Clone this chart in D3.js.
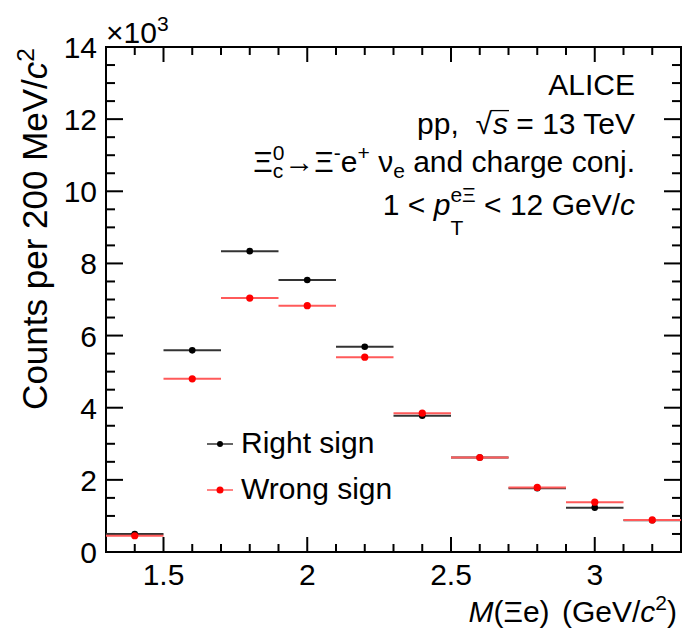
<!DOCTYPE html>
<html>
<head>
<meta charset="utf-8">
<script src="https://cdn.jsdelivr.net/npm/d3@7"></script>
<style>
  html, body { margin: 0; padding: 0; background: #fff; }
  svg { display: block; }
  text { font-family: "Liberation Sans", Helvetica, Arial, sans-serif; fill: #000; }
</style>
</head>
<body>
<svg id="chart" width="687" height="629"></svg>
<script>
// Invariant-mass bins (GeV/c^2): centres and half-width
const binCenters = [1.4, 1.6, 1.8, 2.0, 2.2, 2.4, 2.6, 2.8, 3.0, 3.2];
const binHalfWidth = 0.1;
// Counts per bin, in units of 10^3
const rightSign = [0.50, 5.59, 8.34, 7.54, 5.69, 3.78, 2.62, 1.77, 1.23, 0.88];
const wrongSign = [0.45, 4.80, 7.04, 6.83, 5.40, 3.85, 2.62, 1.79, 1.38, 0.89];
// Axis ticks
const xTickValues = [1.5, 2, 2.5, 3];
const xTickLabels = ["1.5", "2", "2.5", "3"];
const yTickValues = [0, 2, 4, 6, 8, 10, 12, 14];
const yTickLabels = ["0", "2", "4", "6", "8", "10", "12", "14"];

const svg = d3.select("#chart");
const pLeft = 106, pRight = 681, pTop = 47, pBottom = 552;
const x = d3.scaleLinear().domain([1.3, 3.3]).range([pLeft, pRight]);
const y = d3.scaleLinear().domain([0, 14]).range([pBottom, pTop]);

const FS = 30;      // labels, legend and info text
const FS_YT = 35;   // y-axis title

// Frame
svg.append("rect").attr("x", pLeft).attr("y", pTop)
  .attr("width", pRight - pLeft).attr("height", pBottom - pTop)
  .attr("fill", "none").attr("stroke", "#000").attr("stroke-width", 2);

// Ticks (drawn inward on all four sides)
const xMinor = d3.range(1.3, 3.3001, 0.1).map(v => +v.toFixed(2));
const yMinor = d3.range(0, 14.001, 0.5).map(v => +v.toFixed(2));
const ticks = svg.append("g").attr("stroke", "#000").attr("stroke-width", 2);
xMinor.forEach(v => {
  const major = Math.abs(v * 2 - Math.round(v * 2)) < 1e-6;
  const len = major ? 15 : 8;
  ticks.append("line").attr("x1", x(v)).attr("x2", x(v)).attr("y1", pBottom).attr("y2", pBottom - len);
  ticks.append("line").attr("x1", x(v)).attr("x2", x(v)).attr("y1", pTop).attr("y2", pTop + len);
});
yMinor.forEach(v => {
  const major = Math.abs(v / 2 - Math.round(v / 2)) < 1e-6;
  const len = major ? 17 : 9;
  ticks.append("line").attr("x1", pLeft).attr("x2", pLeft + len).attr("y1", y(v)).attr("y2", y(v));
  ticks.append("line").attr("x1", pRight).attr("x2", pRight - len).attr("y1", y(v)).attr("y2", y(v));
});

// Tick labels
svg.append("g").selectAll("text").data(xTickValues).join("text")
  .attr("x", d => x(d)).attr("y", pBottom + 33)
  .attr("text-anchor", "middle").attr("font-size", FS)
  .text((d, i) => xTickLabels[i]);
svg.append("g").selectAll("text").data(yTickValues).join("text")
  .attr("x", pLeft - 9).attr("y", d => y(d) + 11)
  .attr("text-anchor", "end").attr("font-size", FS)
  .text((d, i) => yTickLabels[i]);

// Exponent label
const ex = svg.append("text").attr("x", pLeft).attr("y", 43).attr("font-size", FS);
ex.append("tspan").text("\u00d710");
ex.append("tspan").attr("dy", -12).attr("font-size", FS * 0.7).text("3");

// Rich-text line: one <text> per line, tspans placed left to right;
// a "stack" entry puts a superscript and a subscript at the same x.
function richLine(parent, pieces, xRight, baseline, size) {
  const g = parent.append("g");
  const t = g.append("text").style("white-space", "pre");
  let cx = 0;
  pieces.forEach(p => {
    if (p.stack) {
      let w = 0;
      p.stack.forEach(s => {
        const ts = t.append("tspan").attr("x", cx).attr("y", baseline + s.dy)
          .attr("font-size", size * (s.scale || 0.7)).text(s.t);
        w = Math.max(w, ts.node().getComputedTextLength());
      });
      cx += w;
    } else {
      const ts = t.append("tspan").attr("x", cx).attr("y", baseline + (p.dy || 0))
        .attr("font-size", size * (p.scale || 1)).text(p.t);
      if (p.italic) ts.attr("font-style", "italic");
      const w = ts.node().getComputedTextLength();
      if (p.overline) {
        g.append("line").attr("x1", cx - 2).attr("x2", cx + w + 1)
          .attr("y1", baseline - size * 0.78).attr("y2", baseline - size * 0.78)
          .attr("stroke", "#000").attr("stroke-width", 1.3);
      }
      cx += w + (p.gap || 0);
    }
  });
  g.attr("transform", `translate(${xRight - cx},0)`);
  return g;
}

const info = svg.append("g");
richLine(info, [{ t: "ALICE" }], 635, 95, FS);
richLine(info, [{ t: "pp,  " }, { t: "\u221a", gap: 1 }, { t: "s", italic: true, overline: true }, { t: " = 13 TeV" }], 635, 134, FS);
richLine(info, [
  { t: "\u039e" },
  { stack: [{ t: "0", dy: -12 }, { t: "c", dy: 6 }] },
  { t: "\u2192" }, { t: "\u039e" },
  { t: "-", dy: -12, scale: 0.7 },
  { t: "e" },
  { t: "+", dy: -12, scale: 0.7 },
  { t: " \u03bd" },
  { t: "e", dy: 6, scale: 0.7 },
  { t: " and charge conj." }
], 635, 172, FS);
richLine(info, [
  { t: "1 < " },
  { t: "p", italic: true },
  { stack: [{ t: "e\u039e", dy: -13 }, { t: "T", dy: 20 }] },
  { t: " < 12 GeV/" },
  { t: "c", italic: true }
], 635, 215, FS);

// Axis titles
const yt = svg.append("text").attr("transform", "translate(47,48) rotate(-90)")
  .attr("text-anchor", "end").attr("font-size", FS_YT);
yt.append("tspan").text("Counts per 200 MeV/");
yt.append("tspan").attr("font-style", "italic").text("c");
yt.append("tspan").attr("dy", -13).attr("font-size", FS_YT * 0.7).text("2");

const xt = svg.append("text").attr("x", 677).attr("y", 622)
  .attr("text-anchor", "end").attr("font-size", FS);
xt.append("tspan").attr("font-style", "italic").text("M");
xt.append("tspan").text("(\u039ee)");
xt.append("tspan").attr("dx", 4).text(" (GeV/");
xt.append("tspan").attr("font-style", "italic").text("c");
xt.append("tspan").attr("dy", -12).attr("font-size", FS * 0.7).text("2");
xt.append("tspan").attr("dy", 12).text(")");

// Data series: horizontal bin-width bars with markers
function drawSeries(values, lineColor, markColor, r) {
  const g = svg.append("g");
  g.selectAll("line").data(values).join("line")
    .attr("x1", (d, i) => x(binCenters[i] - binHalfWidth))
    .attr("x2", (d, i) => x(binCenters[i] + binHalfWidth))
    .attr("y1", d => y(d)).attr("y2", d => y(d))
    .attr("stroke", lineColor).attr("stroke-width", 2);
  g.selectAll("circle").data(values).join("circle")
    .attr("cx", (d, i) => x(binCenters[i])).attr("cy", d => y(d))
    .attr("r", r).attr("fill", markColor);
}
drawSeries(rightSign, "#333", "#000", 3.3);
drawSeries(wrongSign, "#ff5a5a", "#ff0000", 3.6);

// Legend
const legend = svg.append("g");
[["Right sign", "#333", "#000", 3], ["Wrong sign", "#ff5a5a", "#ff0000", 3.5]].forEach((e, i) => {
  const cy = 444 + i * 46;
  legend.append("line").attr("x1", 207).attr("x2", 233).attr("y1", cy).attr("y2", cy)
    .attr("stroke", e[1]).attr("stroke-width", 1.5);
  legend.append("circle").attr("cx", 220).attr("cy", cy).attr("r", e[3]).attr("fill", e[2]);
  legend.append("text").attr("x", 241).attr("y", cy + 9).attr("font-size", FS).text(e[0]);
});
</script>
</body>
</html>
